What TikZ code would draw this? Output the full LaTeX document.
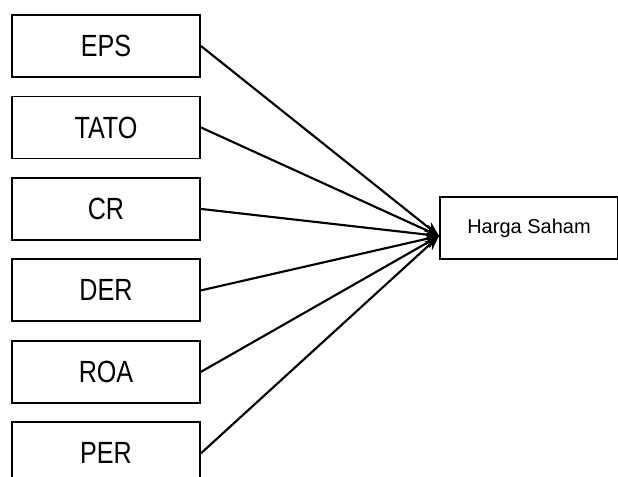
\documentclass[tikz,border=0pt]{standalone}
\usepackage{fontspec}
\setmainfont{Liberation Sans}
\newfontfamily\narrowfont{Liberation Sans}[FakeStretch=0.82]
\usepackage{tikz}
\usetikzlibrary{arrows.meta,positioning}
\tikzset{
    %Define standard arrow tip
    >={Stealth[length=11pt,width=8.5pt]},
    %Define style for boxes
    variabel/.style={
           rectangle,
           draw=black, line width=1.4pt,
           minimum width=141pt,
           minimum height=46.5pt,
           font=\narrowfont\fontsize{23}{27}\selectfont,
           text centered},
    terikat/.style={
           rectangle,
           draw=black, line width=1.4pt,
           minimum width=133.5pt,
           minimum height=46.5pt,
           font=\fontsize{15}{18}\selectfont,
           text centered},
    % Define arrow style
    pil/.style={
           ->,
           line width=1.6pt}
}

\begin{document}
\begin{tikzpicture}[x=0.75pt,y=0.75pt,node distance=13.2pt]
\clip (0,0) rectangle (618,477);
\node[variabel] (eps) at (106,431) {EPS};
\node[variabel, below =of eps] (tato) {TATO};
\node[variabel, below =of tato] (cr) {CR};
\node[variabel, below =of cr] (der) {DER};
\node[variabel, below =of der] (roa) {ROA};
\node[variabel, below =of roa] (per) {PER};
\node[terikat] (saham) at (529,249) {Harga Saham};
\coordinate (tip) at ([yshift=-6pt]saham.west);
\foreach \v in {eps,tato,cr,der,roa,per}
  \draw[pil] (\v.east) -- (tip);
\end{tikzpicture}
\end{document}
